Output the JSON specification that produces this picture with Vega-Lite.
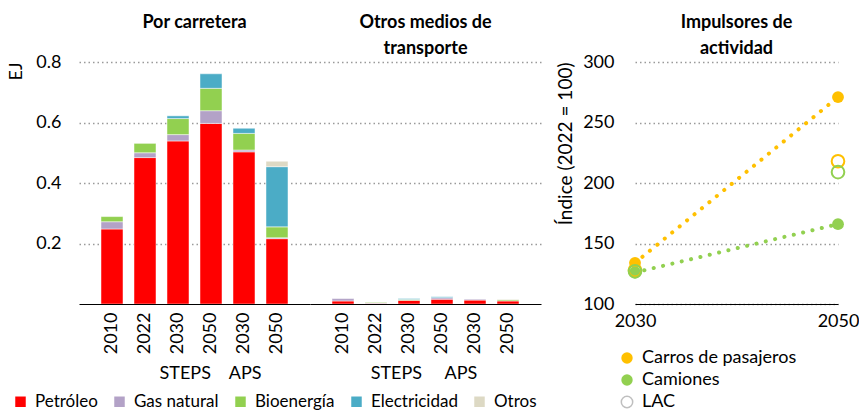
{
  "$schema": "https://vega.github.io/schema/vega-lite/v6.json",
  "padding": {"left": 7, "top": 14, "right": 0, "bottom": 0},
  "config": {
    "font": "Lato",
    "view": {"stroke": null},
    "axis": {"labelFont": "Lato", "labelFontSize": 18, "labelColor": "#000", "titleFont": "Lato", "titleFontSize": 18, "titleFontWeight": "normal", "titleColor": "#000", "gridColor": "#9a9a9a", "gridDash": [1.5, 3], "gridWidth": 1.5, "domainColor": "#000", "ticks": false},
    "title": {"font": "Lato", "fontSize": 18, "fontWeight": "bold", "color": "#000", "frame": "group", "lineHeight": 26, "offset": 0},
    "legend": {"labelFont": "Lato", "labelFontSize": 17, "labelColor": "#000", "padding": 0}
  },
  "datasets": {
    "energia": [
      {"panel": "carretera", "cat": "2010", "fuente": "Petróleo", "k": 1, "valor": 0.248},
      {"panel": "carretera", "cat": "2010", "fuente": "Gas natural", "k": 2, "valor": 0.024},
      {"panel": "carretera", "cat": "2010", "fuente": "Bioenergía", "k": 3, "valor": 0.017},
      {"panel": "carretera", "cat": "2022", "fuente": "Petróleo", "k": 1, "valor": 0.484},
      {"panel": "carretera", "cat": "2022", "fuente": "Gas natural", "k": 2, "valor": 0.016},
      {"panel": "carretera", "cat": "2022", "fuente": "Bioenergía", "k": 3, "valor": 0.031},
      {"panel": "carretera", "cat": "2030S", "fuente": "Petróleo", "k": 1, "valor": 0.539},
      {"panel": "carretera", "cat": "2030S", "fuente": "Gas natural", "k": 2, "valor": 0.021},
      {"panel": "carretera", "cat": "2030S", "fuente": "Bioenergía", "k": 3, "valor": 0.053},
      {"panel": "carretera", "cat": "2030S", "fuente": "Electricidad", "k": 4, "valor": 0.009},
      {"panel": "carretera", "cat": "2050S", "fuente": "Petróleo", "k": 1, "valor": 0.597},
      {"panel": "carretera", "cat": "2050S", "fuente": "Gas natural", "k": 2, "valor": 0.042},
      {"panel": "carretera", "cat": "2050S", "fuente": "Bioenergía", "k": 3, "valor": 0.074},
      {"panel": "carretera", "cat": "2050S", "fuente": "Electricidad", "k": 4, "valor": 0.048},
      {"panel": "carretera", "cat": "2030A", "fuente": "Petróleo", "k": 1, "valor": 0.503},
      {"panel": "carretera", "cat": "2030A", "fuente": "Gas natural", "k": 2, "valor": 0.006},
      {"panel": "carretera", "cat": "2030A", "fuente": "Bioenergía", "k": 3, "valor": 0.055},
      {"panel": "carretera", "cat": "2030A", "fuente": "Electricidad", "k": 4, "valor": 0.017},
      {"panel": "carretera", "cat": "2050A", "fuente": "Petróleo", "k": 1, "valor": 0.216},
      {"panel": "carretera", "cat": "2050A", "fuente": "Gas natural", "k": 2, "valor": 0.003},
      {"panel": "carretera", "cat": "2050A", "fuente": "Bioenergía", "k": 3, "valor": 0.036},
      {"panel": "carretera", "cat": "2050A", "fuente": "Electricidad", "k": 4, "valor": 0.199},
      {"panel": "carretera", "cat": "2050A", "fuente": "Otros", "k": 5, "valor": 0.018},
      {"panel": "otros", "cat": "2010", "fuente": "Petróleo", "k": 1, "valor": 0.010},
      {"panel": "otros", "cat": "2010", "fuente": "Gas natural", "k": 2, "valor": 0.008},
      {"panel": "otros", "cat": "2022", "fuente": "Petróleo", "k": 1, "valor": 0.002},
      {"panel": "otros", "cat": "2022", "fuente": "Gas natural", "k": 2, "valor": 0.002},
      {"panel": "otros", "cat": "2022", "fuente": "Bioenergía", "k": 3, "valor": 0.002},
      {"panel": "otros", "cat": "2030S", "fuente": "Petróleo", "k": 1, "valor": 0.012},
      {"panel": "otros", "cat": "2030S", "fuente": "Bioenergía", "k": 3, "valor": 0.003},
      {"panel": "otros", "cat": "2030S", "fuente": "Electricidad", "k": 4, "valor": 0.003},
      {"panel": "otros", "cat": "2050S", "fuente": "Petróleo", "k": 1, "valor": 0.016},
      {"panel": "otros", "cat": "2050S", "fuente": "Gas natural", "k": 2, "valor": 0.005},
      {"panel": "otros", "cat": "2050S", "fuente": "Electricidad", "k": 4, "valor": 0.003},
      {"panel": "otros", "cat": "2030A", "fuente": "Petróleo", "k": 1, "valor": 0.013},
      {"panel": "otros", "cat": "2030A", "fuente": "Gas natural", "k": 2, "valor": 0.003},
      {"panel": "otros", "cat": "2050A", "fuente": "Petróleo", "k": 1, "valor": 0.010},
      {"panel": "otros", "cat": "2050A", "fuente": "Bioenergía", "k": 3, "valor": 0.004},
      {"panel": "otros", "cat": "2050A", "fuente": "Otros", "k": 5, "valor": 0.002}
    ],
    "actividad": [
      {"serie": "Carros de pasajeros", "tipo": "País", "anio": 2030, "indice": 134},
      {"serie": "Carros de pasajeros", "tipo": "País", "anio": 2050, "indice": 271},
      {"serie": "Camiones", "tipo": "País", "anio": 2030, "indice": 126},
      {"serie": "Camiones", "tipo": "País", "anio": 2050, "indice": 166},
      {"serie": "Carros de pasajeros", "tipo": "LAC", "anio": 2030, "indice": 128},
      {"serie": "Carros de pasajeros", "tipo": "LAC", "anio": 2050, "indice": 218},
      {"serie": "Camiones", "tipo": "LAC", "anio": 2030, "indice": 127},
      {"serie": "Camiones", "tipo": "LAC", "anio": 2050, "indice": 209}
    ]
  },
  "spacing": 15,
  "resolve": {"scale": {"color": "shared", "fill": "independent", "stroke": "independent", "shape": "independent"}, "legend": {"color": "shared", "fill": "independent", "stroke": "independent", "shape": "independent"}},
  "hconcat": [
    {
      "spacing": 0,
      "bounds": "flush",
      "resolve": {"scale": {"color": "shared"}, "legend": {"color": "shared"}},
      "hconcat": [
        {
          "width": 231,
          "height": 242,
          "title": {"text": "Por carretera", "offset": 21},
          "data": {"name": "energia"},
          "transform": [{"filter": "datum.panel == 'carretera'"}],
          "mark": {"type": "bar", "stroke": "#ffffff", "strokeWidth": 0.6, "strokeOpacity": 0.8},
          "encoding": {
            "x": {"field": "cat", "type": "nominal", "sort": ["2010", "2022", "2030S", "2050S", "2030A", "2050A"],
              "scale": {"paddingInner": 0.3333, "paddingOuter": 0.6667},
              "axis": {"labelExpr": "substring(datum.label, 0, 4)", "labelAngle": -90, "labelPadding": 8, "title": "STEPS\u00a0\u00a0\u00a0\u00a0APS", "titleX": 131, "titleY": 74, "titleBaseline": "alphabetic", "titleAlign": "center", "zindex": 1}},
            "y": {"field": "valor", "type": "quantitative", "stack": "zero", "scale": {"domain": [0, 0.8], "nice": false},
              "axis": {"values": [0.2, 0.4, 0.6, 0.8], "format": ".1f", "domain": false, "labelPadding": 18, "title": "EJ", "titleAnchor": "end", "titlePadding": 10, "grid": true}},
            "color": {"field": "fuente", "type": "nominal",
              "scale": {"domain": ["Petróleo", "Gas natural", "Bioenergía", "Electricidad", "Otros"], "range": ["#FF0000", "#B3A2C7", "#92D050", "#4BACC6", "#DDD9C4"]},
              "legend": {"orient": "none", "direction": "horizontal", "legendX": -67, "legendY": 331, "title": null, "symbolType": "square", "symbolSize": 110, "symbolStrokeWidth": 0, "columnPadding": 13, "labelOffset": 6}},
            "order": {"field": "k", "type": "quantitative"}
          }
        },
        {
          "width": 231,
          "height": 242,
          "title": {"text": ["Otros medios de", "transporte"]},
          "data": {"name": "energia"},
          "transform": [{"filter": "datum.panel == 'otros'"}],
          "mark": {"type": "bar", "stroke": "#ffffff", "strokeWidth": 0.6, "strokeOpacity": 0.8},
          "encoding": {
            "x": {"field": "cat", "type": "nominal", "sort": ["2010", "2022", "2030S", "2050S", "2030A", "2050A"],
              "scale": {"paddingInner": 0.3333, "paddingOuter": 0.6667},
              "axis": {"labelExpr": "substring(datum.label, 0, 4)", "labelAngle": -90, "labelPadding": 8, "title": "STEPS\u00a0\u00a0\u00a0\u00a0\u00a0APS", "titleX": 113.5, "titleY": 74, "titleBaseline": "alphabetic", "titleAlign": "center", "zindex": 1}},
            "y": {"field": "valor", "type": "quantitative", "stack": "zero", "scale": {"domain": [0, 0.8], "nice": false},
              "axis": {"values": [0.2, 0.4, 0.6, 0.8], "labels": false, "domain": false, "title": null, "grid": true}},
            "color": {"field": "fuente", "type": "nominal",
              "scale": {"domain": ["Petróleo", "Gas natural", "Bioenergía", "Electricidad", "Otros"], "range": ["#FF0000", "#B3A2C7", "#92D050", "#4BACC6", "#DDD9C4"]},
              "legend": {"orient": "none", "direction": "horizontal", "legendX": -67, "legendY": 331, "title": null, "symbolType": "square", "symbolSize": 110, "symbolStrokeWidth": 0, "columnPadding": 13, "labelOffset": 6}},
            "order": {"field": "k", "type": "quantitative"}
          }
        }
      ]
    },
    {
      "width": 203,
      "height": 242,
      "title": {"text": ["Impulsores de", "actividad"], "offset": -5},
      "data": {"name": "actividad"},
      "encoding": {
        "x": {"field": "anio", "type": "quantitative", "scale": {"domain": [2030, 2050], "nice": false, "zero": false},
          "axis": {"values": [2030, 2050], "format": "d", "grid": false, "labelPadding": 8, "title": null, "zindex": 1, "labelFlush": false}},
        "y": {"field": "indice", "type": "quantitative", "scale": {"domain": [100, 300], "nice": false, "zero": false},
          "axis": {"values": [100, 150, 200, 250, 300], "domain": false, "labelPadding": 21, "title": "Índice (2022 = 100)", "titleFontSize": 19, "titleAnchor": "end", "titlePadding": 7, "grid": true}}
      },
      "layer": [
        {
          "transform": [{"filter": "datum.tipo == 'País'"}],
          "mark": {"type": "line", "strokeDash": [0.1, 9.5], "strokeCap": "round", "strokeWidth": 4},
          "encoding": {"stroke": {"field": "serie", "type": "nominal", "scale": {"domain": ["Camiones", "Carros de pasajeros"], "range": ["#92D050", "#FFC000"]}, "legend": null}}
        },
        {
          "transform": [{"filter": "datum.tipo == 'País'"}],
          "mark": {"type": "circle", "size": 140, "opacity": 1},
          "encoding": {"fill": {"field": "serie", "type": "nominal",
            "scale": {"domain": ["Carros de pasajeros", "Camiones"], "range": ["#FFC000", "#92D050"]},
            "legend": {"orient": "none", "legendX": -17, "legendY": 287, "title": null, "symbolType": "circle", "symbolSize": 130, "rowPadding": 4, "labelOffset": 6, "labelFontSize": 18}}}
        },
        {
          "transform": [{"filter": "datum.tipo == 'LAC'"}],
          "mark": {"type": "point", "filled": false, "size": 160, "strokeWidth": 2, "opacity": 1},
          "encoding": {
            "stroke": {"field": "serie", "type": "nominal", "scale": {"domain": ["Camiones", "Carros de pasajeros"], "range": ["#92D050", "#FFC000"]}, "legend": null},
            "shape": {"field": "tipo", "type": "nominal", "scale": {"domain": ["LAC"], "range": ["circle"]},
              "legend": {"orient": "none", "legendX": -17, "legendY": 331, "title": null, "symbolSize": 130, "symbolFillColor": "#ffffff", "symbolStrokeColor": "#BFBFBF", "symbolStrokeWidth": 1.5, "labelOffset": 6, "labelFontSize": 18}}
          }
        }
      ]
    }
  ]
}
